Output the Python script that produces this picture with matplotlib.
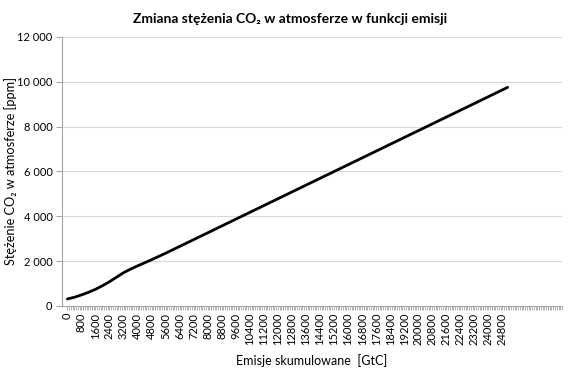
import matplotlib
matplotlib.use('Agg')
import matplotlib.pyplot as plt
import numpy as np

plt.rcParams['font.family'] = ['Lato', 'DejaVu Sans']

# emisje skumulowane [GtC] i stezenie CO2 [ppm]
emisje = [0, 400, 800, 1200, 1600, 2000, 2400, 2800, 3200, 3600, 4000, 4800, 5600, 25100]
stezenie = [310, 385, 490, 605, 740, 900, 1080, 1280, 1480, 1640, 1785, 2060, 2350, 9750]

xticks = list(range(0, 24801, 800))
yticks = [0, 2000, 4000, 6000, 8000, 10000, 12000]
ylabels = ['0', '2 000', '4 000', '6 000', '8 000', '10 000', '12 000']

fig = plt.figure(figsize=(5.7, 3.69), dpi=100)
ax = fig.add_axes([0.109, 0.171, 0.877, 0.729])

ax.plot(emisje, stezenie, color='black', lw=2, solid_capstyle='round', solid_joinstyle='round')

ax.set_xlim(-300, 28200)
ax.set_ylim(0, 12000)
ax.set_yticks(yticks)
ax.set_yticklabels(ylabels)
ax.set_xticks(xticks)
ax.set_xticklabels([str(v) for v in xticks], rotation=90)
ax.set_xticks(np.arange(0, 28201, 100), minor=True)

ax.grid(axis='y', color='#d9d9d9', lw=0.8)
ax.set_axisbelow(True)
for s in ['top', 'right']:
    ax.spines[s].set_visible(False)
for s in ['left', 'bottom']:
    ax.spines[s].set_color('#a6a6a6')
    ax.spines[s].set_linewidth(0.8)
ax.tick_params(axis='y', length=4, color='#a6a6a6', labelsize=8, pad=3)
ax.tick_params(axis='x', which='both', length=3, color='#a6a6a6', width=0.6, labelsize=8, pad=2)

ax.set_xlabel('Emisje skumulowane  [GtC]', fontsize=9, labelpad=6)
ax.set_ylabel('Stężenie CO₂ w atmosferze [ppm]', fontsize=9.2, labelpad=0)
ax.set_title('Zmiana stężenia CO₂ w atmosferze w funkcji emisji', fontsize=10, fontweight='bold', pad=10, x=0.456)

fig.savefig('out.png', dpi=100)
